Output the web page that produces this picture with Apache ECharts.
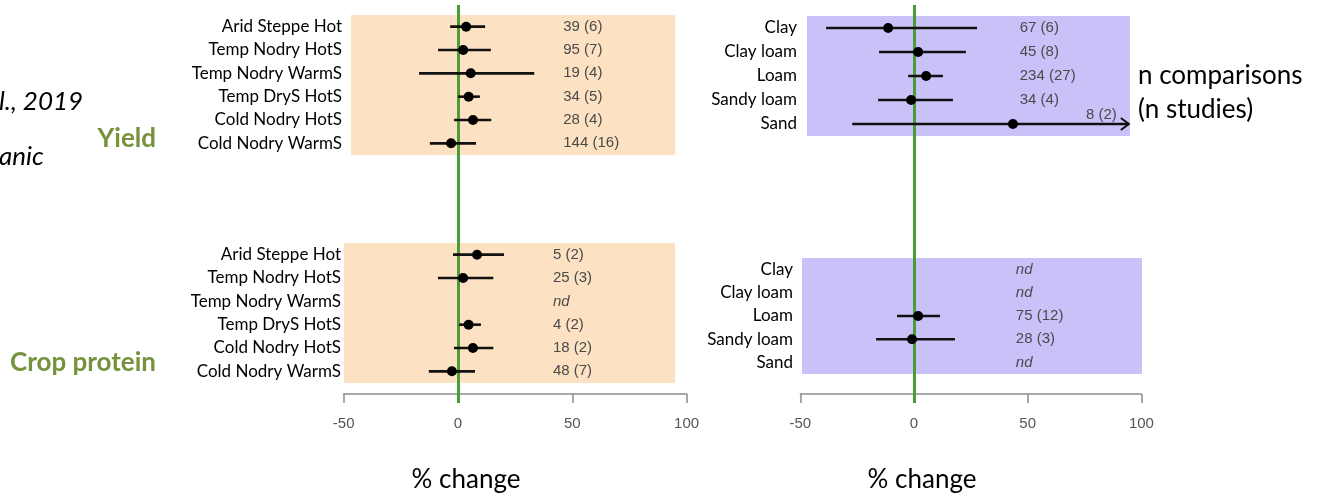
<!DOCTYPE html>
<html>
<head>
<meta charset="utf-8">
<script src="https://cdn.jsdelivr.net/npm/echarts@6/dist/echarts.min.js"></script>
<style>
html,body{margin:0;padding:0;background:#fff;}
#chart{width:1323px;height:495px;}
</style>
</head>
<body>
<div id="chart"></div>
<script>
// ---------- data ----------
const climateCats = ['Arid Steppe Hot','Temp Nodry HotS','Temp Nodry WarmS','Temp DryS HotS','Cold Nodry HotS','Cold Nodry WarmS'];
const soilCats = ['Clay','Clay loam','Loam','Sandy loam','Sand'];

// Yield by climate (% change, 95% CI)
const yieldClimateMean = [4, 2.7, 6, 5.1, 7, -2.6];
const yieldClimateLo   = [-3, -8.3, -16.6, 0.5, -1.3, -11.9];
const yieldClimateHi   = [12.3, 14.8, 33.8, 10, 15, 8.3];
const yieldClimateN    = [39, 95, 19, 34, 28, 144];
const yieldClimateStud = [6, 7, 4, 5, 4, 16];

// Crop protein by climate
const protClimateMean = [8.8, 2.7, null, 5.1, 7, -2.2];
const protClimateLo   = [-1.7, -8.3, null, 1, -1.3, -12.3];
const protClimateHi   = [20.6, 15.9, null, 10.5, 15.9, 7.9];
const protClimateN    = [5, 25, null, 4, 18, 48];
const protClimateStud = [2, 3, null, 2, 2, 7];

// Yield by soil texture
const yieldSoilMean = [-11.4, 1.8, 5.3, -1.3, 43.5];
const yieldSoilLo   = [-38.7, -15.4, -2.6, -15.8, -27.2];
const yieldSoilHi   = [27.7, 22.8, 12.7, 17.1, 94.5];
const yieldSoilOpen = [0, 0, 0, 0, 1];   // CI continues beyond the axis (arrow)
const yieldSoilN    = [67, 45, 234, 34, 8];
const yieldSoilStud = [6, 8, 27, 4, 2];

// Crop protein by soil texture
const protSoilMean = [null, null, 1.8, -0.9, null];
const protSoilLo   = [null, null, -7.5, -16.7, null];
const protSoilHi   = [null, null, 11.4, 18, null];
const protSoilN    = [null, null, 75, 28, null];
const protSoilStud = [null, null, 12, 3, null];

const axisTicks = [-50, 0, 50, 100];

// ---------- styling / layout ----------
const GREEN = '#4a9d35';
const OLIVE = '#76923c';
const ORANGE = '#fce1c3';
const PURPLE = '#c8c2f8';
const LABEL_FONT = 'Lato, "Open Sans", sans-serif';
const SMALL_FONT = '"Liberation Sans", Arial, sans-serif';

function labels(n, s) {
  return n.map((v, i) => v == null ? 'nd' : v + ' (' + s[i] + ')');
}

function forestSeries(idx, cats, mean, lo, hi, n, s, textX, open) {
  const lab = labels(n, s);
  const data = cats.map((c, i) => [i, mean[i] == null ? 0 : mean[i]]);
  return {
    type: 'custom',
    xAxisIndex: idx, yAxisIndex: idx,
    clip: false,
    z: 5,
    data: data,
    encode: { x: 1, y: 0 },
    renderItem: function (params, api) {
      const i = params.dataIndex;
      const y = api.coord([0, i])[1];
      const children = [];
      let labelX = api.coord([textX, i])[0];
      let labelY = y;
      let align = 'left';
      if (mean[i] != null) {
        const x1 = api.coord([lo[i], i])[0];
        const x2 = api.coord([hi[i], i])[0];
        const xp = api.coord([mean[i], i])[0];
        children.push({ type: 'line', shape: { x1: x1, y1: y, x2: x2, y2: y },
          style: { stroke: '#111', lineWidth: 2.6 } });
        if (open && open[i]) {
          children.push({ type: 'polyline', shape: { points: [[x2 - 8, y - 6], [x2, y], [x2 - 8, y + 6]] },
            style: { stroke: '#111', lineWidth: 2, fill: null } });
          labelX = x2 - 12; labelY = y - 9; align = 'right';
        }
        children.push({ type: 'circle', shape: { cx: xp, cy: y, r: 5 }, style: { fill: '#000' } });
      }
      children.push({ type: 'text', x: labelX, y: labelY,
        style: { text: lab[i], fill: '#4a4a4a', fontSize: 15, fontFamily: SMALL_FONT,
          fontStyle: mean[i] == null ? 'italic' : 'normal', align: align, verticalAlign: 'middle' } });
      return { type: 'group', children: children };
    }
  };
}

// panel grids: 0 TL, 1 TR, 2 BL, 3 BR ; 4,5 green-line overlays ; 6,7 bottom axes
const panels = [
  { left: 351, top: 15, width: 324, height: 140, min: -46.4, max: 95.4, bg: ORANGE, cats: climateCats, margin: 9 },
  { left: 807, top: 16, width: 323, height: 120, min: -47.1, max: 95.0, bg: PURPLE, cats: soilCats, margin: 10 },
  { left: 344, top: 243, width: 331, height: 140, min: -49.4, max: 95.4, bg: ORANGE, cats: climateCats, margin: 3 },
  { left: 802, top: 258, width: 340, height: 116, min: -49.3, max: 100.3, bg: PURPLE, cats: soilCats, margin: 9 }
];
const cols = [
  { left: 343.7, width: 342.9 },
  { left: 800.3, width: 341.1 }
];

const grids = [], xAxes = [], yAxes = [], series = [];
panels.forEach((p, k) => {
  grids.push({ left: p.left, top: p.top, width: p.width, height: p.height,
    show: true, backgroundColor: p.bg, borderWidth: 0 });
  xAxes.push({ gridIndex: k, type: 'value', min: p.min, max: p.max, show: false });
  yAxes.push({ gridIndex: k, type: 'category', data: p.cats, inverse: true,
    axisLine: { show: false }, axisTick: { show: false }, splitLine: { show: false },
    axisLabel: { color: '#000', fontSize: 17, fontFamily: LABEL_FONT, margin: p.margin } });
});
cols.forEach((c, k) => {
  const gi = 4 + k;
  grids.push({ left: c.left, width: c.width, top: 5, height: 398 });
  xAxes.push({ gridIndex: gi, type: 'value', min: -50, max: 100, show: false });
  yAxes.push({ gridIndex: gi, type: 'value', show: false });
  series.push({ type: 'scatter', xAxisIndex: gi, yAxisIndex: gi, data: [], z: 20,
    markLine: { silent: true, symbol: 'none', label: { show: false },
      lineStyle: { color: GREEN, width: 3, type: 'solid' }, data: [{ xAxis: 0 }] } });
});
cols.forEach((c, k) => {
  const gi = 6 + k;
  grids.push({ left: c.left, width: c.width, top: 393, height: 1 });
  xAxes.push({ gridIndex: gi, type: 'value', min: axisTicks[0], max: axisTicks[axisTicks.length - 1], interval: 50,
    axisLine: { show: true, lineStyle: { color: '#8c8c8c', width: 1.5 } },
    axisTick: { show: true, inside: false, length: 9, lineStyle: { color: '#8c8c8c', width: 1.5 } },
    splitLine: { show: false },
    axisLabel: { color: '#555', fontSize: 15, fontFamily: SMALL_FONT, margin: 22,
      showMinLabel: true, showMaxLabel: true } });
  yAxes.push({ gridIndex: gi, type: 'value', show: false });
});

series.push(forestSeries(0, climateCats, yieldClimateMean, yieldClimateLo, yieldClimateHi, yieldClimateN, yieldClimateStud, 46.5));
series.push(forestSeries(1, soilCats, yieldSoilMean, yieldSoilLo, yieldSoilHi, yieldSoilN, yieldSoilStud, 46.5, yieldSoilOpen));
series.push(forestSeries(2, climateCats, protClimateMean, protClimateLo, protClimateHi, protClimateN, protClimateStud, 42));
series.push(forestSeries(3, soilCats, protSoilMean, protSoilLo, protSoilHi, protSoilN, protSoilStud, 44.8));

const txt = (x, y, text, extra) => ({ type: 'text', x: x, y: y,
  style: Object.assign({ text: text, fill: '#000', fontFamily: LABEL_FONT, fontSize: 26, verticalAlign: 'middle' }, extra || {}) });

const chart = echarts.init(document.getElementById('chart'), null, { renderer: 'canvas' });
chart.setOption({
  animation: false,
  backgroundColor: '#fff',
  grid: grids, xAxis: xAxes, yAxis: yAxes, series: series,
  graphic: [
    txt(-1, 102, 'l., 2019', { fontStyle: 'italic', fontSize: 26 }),
    txt(-1, 157, 'anic', { fontStyle: 'italic', fontSize: 26 }),
    txt(156, 139, 'Yield', { fill: OLIVE, fontWeight: 'bold', fontSize: 26, align: 'right' }),
    txt(156, 363, 'Crop protein', { fill: OLIVE, fontWeight: 'bold', fontSize: 26, align: 'right' }),
    txt(1138, 76, 'n comparisons', { fontSize: 26 }),
    txt(1138, 110, '(n studies)', { fontSize: 26 }),
    txt(466, 480, '% change', { fontSize: 26, align: 'center' }),
    txt(922, 480, '% change', { fontSize: 26, align: 'center' })
  ]
});
</script>
</body>
</html>
